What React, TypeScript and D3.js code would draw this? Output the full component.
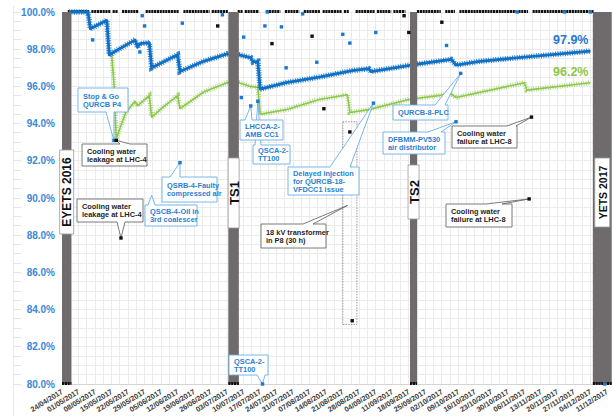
import React from 'react';
import * as d3 from 'd3';

// ---- data -------------------------------------------------------------

// Cumulative availability (blue) – vertices of the daily trace
const availabilityBlue: [string, number][] = [
  ['2017-04-27', 100], ['2017-05-05', 100], ['2017-05-06', 99.1], ['2017-05-13', 99.55],
  ['2017-05-14', 97.7], ['2017-05-25', 98.5], ['2017-05-26', 98.1], ['2017-05-27', 98.3],
  ['2017-05-31', 98.35], ['2017-06-01', 97.0], ['2017-06-12', 97.7], ['2017-06-13', 96.8],
  ['2017-06-23', 97.35], ['2017-07-03', 97.75], ['2017-07-08', 97.7], ['2017-07-13', 97.55],
  ['2017-07-14', 97.3], ['2017-07-16', 97.35], ['2017-07-17', 95.85], ['2017-07-28', 96.2],
  ['2017-08-11', 96.5], ['2017-08-25', 96.85], ['2017-09-01', 96.95], ['2017-09-02', 96.8],
  ['2017-09-19', 97.15], ['2017-10-06', 97.45], ['2017-10-08', 97.15], ['2017-10-18', 97.35],
  ['2017-12-04', 97.9],
];

// Cumulative availability (green) – vertices of the daily trace
const availabilityGreen: [string, number][] = [
  ['2017-05-15', 97.8], ['2017-05-16', 96.2], ['2017-05-17', 93.2], ['2017-05-21', 94.6],
  ['2017-05-25', 95.2], ['2017-05-26', 94.95], ['2017-05-31', 95.5], ['2017-06-01', 94.35],
  ['2017-06-06', 94.9], ['2017-06-12', 95.5], ['2017-06-13', 94.8], ['2017-06-23', 95.7],
  ['2017-07-03', 96.2], ['2017-07-08', 96.2], ['2017-07-13', 96.0], ['2017-07-16', 95.95],
  ['2017-07-17', 94.5], ['2017-07-28', 94.75], ['2017-08-11', 95.3], ['2017-08-23', 95.55],
  ['2017-08-24', 94.6], ['2017-09-01', 94.75], ['2017-09-18', 95.3], ['2017-10-06', 95.6],
  ['2017-10-08', 95.4], ['2017-11-06', 96.2], ['2017-11-07', 95.8], ['2017-12-04', 96.2],
];

const endLabels = [
  { text: '97.9%', date: '2017-12-04', value: 97.9, series: 'blue' },
  { text: '96.2%', date: '2017-12-04', value: 96.2, series: 'green' },
];

// Daily values below 100 % (blue series)
const dailyBlue: [string, number][] = [
  ['2017-05-07', 98.5], ['2017-05-28', 99.8], ['2017-05-29', 99.25], ['2017-05-27', 97.85],
  ['2017-06-14', 99.4], ['2017-07-01', 99.85], ['2017-05-16', 93.1], ['2017-06-13', 91.9],
  ['2017-07-20', 100], ['2017-11-03', 100], ['2017-11-23', 100], ['2017-12-04', 100],
  ['2017-08-04', 99.9], ['2017-07-19', 99.25], ['2017-07-26', 99.2], ['2017-07-10', 98.65],
  ['2017-08-21', 98.8], ['2017-08-24', 98.33], ['2017-09-04', 98.9], ['2017-08-10', 97.3],
  ['2017-07-28', 97.0], ['2017-07-09', 95.4], ['2017-07-13', 94.95], ['2017-07-16', 95.2],
  ['2017-09-03', 95.1], ['2017-10-04', 98.2], ['2017-10-10', 96.7], ['2017-10-08', 94.1],
  ['2017-07-18', 80.0], ['2017-12-10', 80.0],
];

// Daily values below 100 % (black series)
const dailyBlack: [string, number][] = [
  ['2017-06-29', 99.25], ['2017-05-19', 87.85], ['2017-05-17', 93.1], ['2017-07-22', 98.3],
  ['2017-08-08', 98.7], ['2017-09-16', 99.8], ['2017-09-18', 98.9], ['2017-08-13', 94.8],
  ['2017-08-24', 93.55], ['2017-08-25', 83.4], ['2017-10-02', 99.45], ['2017-11-09', 94.35],
  ['2017-11-08', 89.95],
];

// Runs of days at 100 %
const fullDays: [string, string][] = [
  ['2017-04-27', '2017-05-05'], ['2017-05-07', '2017-05-14'], ['2017-05-16', '2017-05-17'],
  ['2017-05-20', '2017-05-26'], ['2017-05-30', '2017-06-12'], ['2017-06-15', '2017-06-25'],
  ['2017-06-27', '2017-07-03'], ['2017-07-08', '2017-07-09'], ['2017-07-11', '2017-07-16'],
  ['2017-07-20', '2017-07-25'], ['2017-07-28', '2017-08-02'], ['2017-08-05', '2017-08-11'],
  ['2017-08-13', '2017-08-20'], ['2017-08-22', '2017-08-23'], ['2017-08-27', '2017-09-03'],
  ['2017-09-05', '2017-09-10'], ['2017-09-12', '2017-09-16'], ['2017-09-22', '2017-10-01'],
  ['2017-10-04', '2017-10-07'], ['2017-10-10', '2017-11-02'], ['2017-11-04', '2017-11-07'],
  ['2017-11-10', '2017-12-05'],
];

// Technical stops
const stops = [
  { name: 'EYETS 2016', from: '2017-04-24', to: '2017-04-28' },
  { name: 'TS1', from: '2017-07-03T12:00', to: '2017-07-07T23:00' },
  { name: 'TS2', from: '2017-09-18T12:00', to: '2017-09-21T12:00' },
  { name: 'YETS 2017', from: '2017-12-05', to: '2017-12-13' },
];

// Event annotations: text and the (date, value) they point at
const events = [
  { lines: ['Stop & Go', 'QURCB P4'], kind: 'blue', date: '2017-05-16', value: 93.1 },
  { lines: ['Cooling water', 'leakage at LHC-4'], kind: 'black', date: '2017-05-17', value: 93.1 },
  { lines: ['Cooling water', 'leakage at LHC-4'], kind: 'black', date: '2017-05-19', value: 87.85 },
  { lines: ['QSRB-4-Faulty', 'compressed air'], kind: 'blue', date: '2017-06-13', value: 91.9 },
  { lines: ['QSCB-4-Oil in', '3rd coalescer'], kind: 'blue', date: '2017-06-01', value: 90.15 },
  { lines: ['QSCA-2-', 'TT100'], kind: 'blue', date: '2017-07-16', value: 95.2 },
  { lines: ['LHCCA-2-', 'AMB CC1'], kind: 'blue', date: '2017-07-13', value: 94.95 },
  { lines: ['Delayed injection', 'for QURCB-18-', 'VFDCC1 issue'], kind: 'blue', date: '2017-09-03', value: 95.1 },
  { lines: ['18 kV transformer', 'in P8 (30 h)'], kind: 'black', date: '2017-08-23', value: 89.6 },
  { lines: ['DFBMM-PV530', 'air distributor'], kind: 'blue', date: '2017-10-08', value: 94.1 },
  { lines: ['QURCB-8-PLC'], kind: 'blue', date: '2017-10-10', value: 96.7 },
  { lines: ['Cooling water', 'failure at LHC-8'], kind: 'black', date: '2017-11-09', value: 94.35 },
  { lines: ['Cooling water', 'failure at LHC-8'], kind: 'black', date: '2017-11-08', value: 89.95 },
  { lines: ['QSCA-2-', 'TT100'], kind: 'blue', date: '2017-07-18', value: 80.0 },
];

// Span of the 18 kV transformer event
const transformerSpan = { from: '2017-08-21', to: '2017-08-27', low: 83.2, high: 94.1 };

// ---- layout -----------------------------------------------------------

const W = 613;
const H = 420;
const PLOT = { left: 62, right: 607, top: 12, bottom: 384, edge: 612 };
const FONT = '"Liberation Sans", Arial, sans-serif';

// Callout boxes (px) and where the wedge leaves the box
type Box = { x: number; y: number; w: number; h: number; edge: 'top' | 'bottom'; s: number; e: number };
const eventBoxes: Box[] = [
  { x: 78, y: 88, w: 50, h: 24, edge: 'bottom', s: 28, e: 36 },
  { x: 82, y: 144, w: 65, h: 22, edge: 'top', s: 38, e: 48 },
  { x: 77, y: 199, w: 66, h: 23, edge: 'bottom', s: 40, e: 48 },
  { x: 162, y: 177, w: 55, h: 25, edge: 'top', s: 8, e: 18 },
  { x: 145, y: 205, w: 52, h: 21, edge: 'top', s: 3, e: 10 },
  { x: 253, y: 145, w: 37, h: 19, edge: 'top', s: 2, e: 8 },
  { x: 240, y: 120, w: 43, h: 20, edge: 'top', s: 5, e: 12 },
  { x: 288, y: 167, w: 71, h: 28, edge: 'top', s: 42, e: 62 },
  { x: 261, y: 224, w: 65, h: 24, edge: 'top', s: 42, e: 52 },
  { x: 383, y: 132, w: 62, h: 22, edge: 'top', s: 45, e: 58 },
  { x: 393, y: 105, w: 55, h: 15, edge: 'top', s: 42, e: 52 },
  { x: 452, y: 126, w: 65, h: 22, edge: 'top', s: 55, e: 64 },
  { x: 446, y: 204, w: 66, h: 23, edge: 'top', s: 40, e: 56 },
  { x: 229, y: 355, w: 39, h: 20, edge: 'bottom', s: 28, e: 36 },
];

const stopLabelBoxes = [
  { cy: 192, w: 14, h: 84, fs: 12 },
  { cy: 193, w: 11, h: 70, fs: 13 },
  { cy: 192, w: 11, h: 54, fs: 13 },
  { cy: 192.5, w: 15, h: 69, fs: 10.5 },
];

const COLORS = {
  blue: '#0f70c6',
  green: '#8cc84b',
  blueText: '#2d7fd0',
  blueBorder: '#6aaee8',
  blackText: '#1e1e1e',
  blackBorder: '#6b6b6b',
  grid: '#ebebeb',
  bar: '#6f6b6c',
  axisBlue: '#3a88d6',
};

const parse = (s: string) => new Date(s.length === 10 ? s + 'T00:00:00Z' : s + ':00Z');

function calloutPath(b: Box, tx: number, ty: number) {
  const { x, y, w, h, edge, s, e } = b;
  if (edge === 'top') {
    return `M${x},${y}L${x + s},${y}L${tx},${ty}L${x + e},${y}L${x + w},${y}L${x + w},${y + h}L${x},${y + h}Z`;
  }
  return `M${x},${y}L${x + w},${y}L${x + w},${y + h}L${x + e},${y + h}L${tx},${ty}L${x + s},${y + h}L${x},${y + h}Z`;
}

export default function App() {
  const x = d3.scaleUtc().domain([parse('2017-04-24'), parse('2017-12-11')]).range([PLOT.left, PLOT.right]);
  const y = d3.scaleLinear().domain([80, 100]).range([PLOT.bottom, PLOT.top]);
  const line = d3
    .line<[string, number]>()
    .x((d) => x(parse(d[0])))
    .y((d) => y(d[1]));

  const weeks = d3.utcMonday.range(parse('2017-04-24'), parse('2017-12-12'));
  const fmtDate = d3.utcFormat('%d/%m/%Y');
  const fmtPct = (v: number) => d3.format('.1f')(v) + '%';
  const hGrid = d3.range(80, 100.001, 0.5);
  const vGrid = d3
    .range(0, 240, 3.5)
    .map((d) => d3.utcHour.offset(parse('2017-04-24'), Math.round(d * 24)))
    .filter((d) => x(d) <= PLOT.edge);

  return (
    <svg
      width={W}
      height={H}
      style={{ position: 'absolute', left: 0, top: 0, background: '#fff', fontFamily: FONT }}
    >
      {/* faint outer scale on the far left */}
      <line x1={13.5} x2={13.5} y1={6} y2={416} stroke="#e8e8e8" shapeRendering="crispEdges" />
      {hGrid.map((v) => (
        <line key={'lt' + v} x1={13} x2={21} y1={y(v)} y2={y(v)} stroke="#e4e4e4" shapeRendering="crispEdges" />
      ))}

      {/* grid */}
      <g shapeRendering="crispEdges">
        {hGrid.map((v) => (
          <line key={'h' + v} x1={PLOT.left} x2={PLOT.edge} y1={y(v)} y2={y(v)} stroke={COLORS.grid} />
        ))}
        {vGrid.map((d, i) => (
          <line key={'v' + i} x1={x(d)} x2={x(d)} y1={PLOT.top} y2={PLOT.bottom} stroke={COLORS.grid} />
        ))}
        <line x1={PLOT.left} x2={PLOT.edge} y1={PLOT.bottom} y2={PLOT.bottom} stroke="#d4d4d4" />
      </g>

      {/* days at 100 % */}
      {fullDays.map(([a, b], i) => (
        <line
          key={'f' + i}
          x1={x(parse(a)) - 1.3}
          x2={x(parse(b)) + 1.3}
          y1={y(100) - 0.5}
          y2={y(100) - 0.5}
          stroke="#111"
          strokeWidth={3.2}
          strokeDasharray="2.2 0.6"
        />
      ))}

      {/* cumulative availability lines with dense markers */}
      <path d={line(availabilityGreen) || ''} fill="none" stroke={COLORS.green} strokeWidth={1.6} strokeLinejoin="round" />
      <path
        d={line(availabilityGreen) || ''}
        fill="none"
        stroke={COLORS.green}
        strokeWidth={5}
        strokeDasharray="0.8 1.6"
        opacity={0.75}
      />
      <path d={line(availabilityBlue) || ''} fill="none" stroke={COLORS.blue} strokeWidth={2.8} strokeLinejoin="round" />
      <path
        d={line(availabilityBlue) || ''}
        fill="none"
        stroke={COLORS.blue}
        strokeWidth={5.5}
        strokeDasharray="1 1.4"
        opacity={0.85}
      />

      {/* technical stops */}
      {stops.map((s) => (
        <rect
          key={s.name}
          x={x(parse(s.from))}
          y={PLOT.top}
          width={x(parse(s.to)) - x(parse(s.from))}
          height={PLOT.bottom - PLOT.top}
          fill={COLORS.bar}
        />
      ))}
      {stops.map((s) => (
        <line
          key={'z' + s.name}
          x1={x(parse(s.from))}
          x2={x(parse(s.to))}
          y1={y(80) - 0.5}
          y2={y(80) - 0.5}
          stroke="#111"
          strokeWidth={3}
          strokeDasharray="2.2 0.6"
        />
      ))}
      {stops.map((s, i) => {
        const b = stopLabelBoxes[i];
        const cx = (x(parse(s.from)) + x(parse(s.to))) / 2;
        return (
          <g key={'sl' + s.name}>
            <rect x={cx - b.w / 2} y={b.cy - b.h / 2} width={b.w} height={b.h} fill="#fff" stroke="#9a9a9a" strokeWidth={0.8} />
            <text
              transform={`translate(${cx + 0.5},${b.cy}) rotate(-90)`}
              textAnchor="middle"
              dominantBaseline="central"
              fontSize={b.fs}
              fontWeight="bold"
              fill="#111"
            >
              {s.name}
            </text>
          </g>
        );
      })}

      {/* 18 kV transformer span */}
      <rect
        x={x(parse(transformerSpan.from))}
        y={y(transformerSpan.high)}
        width={x(parse(transformerSpan.to)) - x(parse(transformerSpan.from))}
        height={y(transformerSpan.low) - y(transformerSpan.high)}
        fill="none"
        stroke="#8a8a8a"
        strokeWidth={0.9}
        strokeDasharray="1.5 1.2"
      />

      {/* event callouts */}
      {events.map((ev, i) => {
        const b = eventBoxes[i];
        const tx = x(parse(ev.date));
        const ty = y(ev.value);
        const isBlue = ev.kind === 'blue';
        const lh = 8.2;
        const n = ev.lines.length;
        return (
          <g key={'ev' + i}>
            <path
              d={calloutPath(b, tx, ty)}
              fill="#fff"
              stroke={isBlue ? COLORS.blueBorder : COLORS.blackBorder}
              strokeWidth={0.9}
              strokeLinejoin="miter"
            />
            {ev.lines.map((t, j) => (
              <text
                key={j}
                x={b.x + 5}
                y={b.y + b.h / 2 + (j - (n - 1) / 2) * lh + 2.7}
                fontSize={7.4}
                fontWeight="bold"
                fill={isBlue ? COLORS.blueText : COLORS.blackText}
              >
                {t}
              </text>
            ))}
          </g>
        );
      })}

      {/* daily points */}
      {dailyBlue.map(([d, v], i) => (
        <rect key={'b' + i} x={x(parse(d)) - 1.7} y={y(v) - 1.7} width={3.4} height={3.4} fill="#1a78cf" />
      ))}
      {dailyBlack.map(([d, v], i) => (
        <rect key={'k' + i} x={x(parse(d)) - 1.7} y={y(v) - 1.7} width={3.4} height={3.4} fill="#111" />
      ))}

      {/* end-of-year values */}
      {endLabels.map((l) => (
        <text
          key={l.text}
          x={x(parse(l.date)) - 2}
          y={y(l.value) - 7}
          textAnchor="end"
          fontSize={12.5}
          fontWeight="bold"
          fill={l.series === 'blue' ? '#1f78d1' : COLORS.green}
        >
          {l.text}
        </text>
      ))}

      {/* y axis */}
      {y.ticks(10).map((v) => (
        <text
          key={'y' + v}
          x={55}
          y={y(v) + 3.5}
          textAnchor="end"
          fontSize={10}
          fontWeight="bold"
          fill={COLORS.axisBlue}
        >
          {fmtPct(v)}
        </text>
      ))}

      {/* x axis */}
      {weeks.map((d) => (
        <text
          key={'x' + d.getTime()}
          transform={`translate(${x(d) + 1.5},${393}) rotate(-32)`}
          textAnchor="end"
          fontSize={7.3}
          fontWeight="bold"
          fill="#3a3a3a"
        >
          {fmtDate(d)}
        </text>
      ))}
    </svg>
  );
}
